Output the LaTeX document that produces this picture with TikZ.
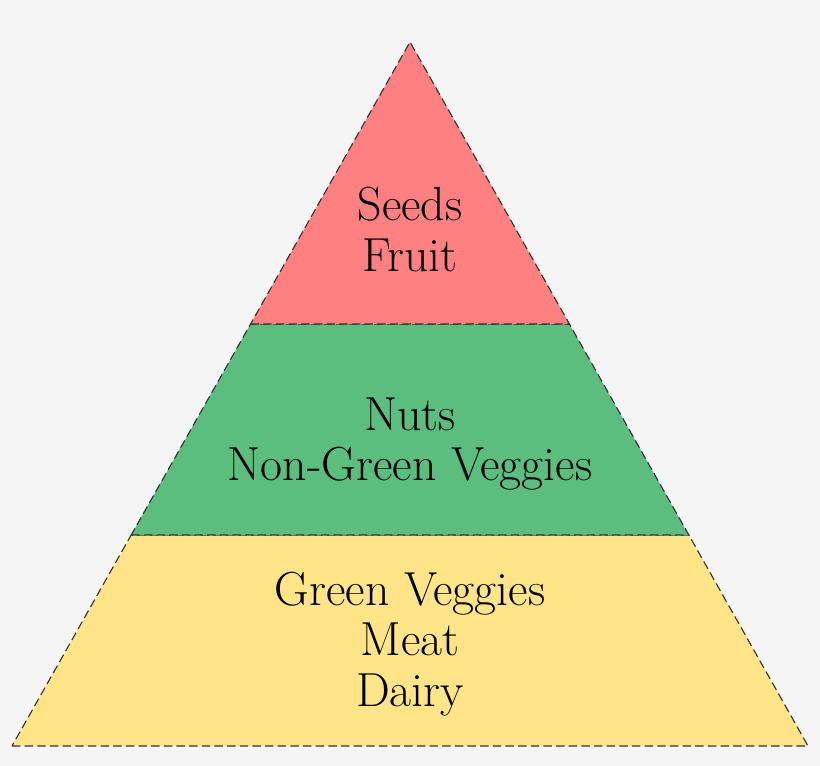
\documentclass[tikz,border=0pt]{standalone}
\usepackage{tikz}

\definecolor{bgray}{RGB}{245,245,245}
\definecolor{topred}{RGB}{255,128,128}
\definecolor{midgreen}{RGB}{91,190,126}
\definecolor{lowyellow}{RGB}{255,229,135}

\tikzset{
  layer/.style={draw=black!80,line width=0.8pt,dash pattern=on 6pt off 3pt},
  label/.style={align=center,font=\fontsize{34}{36}\selectfont}
}

\begin{document}
\begin{tikzpicture}
\fill [bgray] (0,0) rectangle (20.5,19.15);
\useasboundingbox (0,0) rectangle (20.5,19.15);
\coordinate (apex) at (10.25,18.1);
\coordinate (ul)   at (6.265,11.05);
\coordinate (ur)   at (14.235,11.05);
\coordinate (ml)   at (3.28,5.775);
\coordinate (mr)   at (17.22,5.775);
\coordinate (bl)   at (0.3,0.5);
\coordinate (br)   at (20.2,0.5);
\filldraw [layer,fill=lowyellow] (bl) -- (br) -- (mr) -- (ml) -- cycle;
\filldraw [layer,fill=midgreen]  (ml) -- (mr) -- (ur) -- (ul) -- cycle;
\filldraw [layer,fill=topred]    (ul) -- (ur) -- (apex) -- cycle;
\node (top) at (10.25,13.42) [label] {Seeds\\Fruit};
\node (mid) at (10.25,8.05) [label] {Nuts\\Non-Green Veggies};
\node (low) at (10.25,3.05) [label] {Green Veggies\\Meat\\Dairy};
\end{tikzpicture}
\end{document}
